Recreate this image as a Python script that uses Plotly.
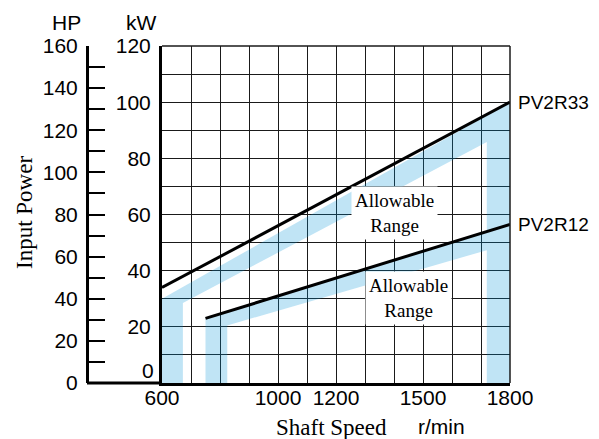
import plotly.graph_objects as go

# ---- data ----
speed_ticks = [600, 700, 800, 900, 1000, 1100, 1200, 1300, 1400, 1500, 1600, 1700, 1800]
speed_labels = ["600", "", "", "", "1000", "", "1200", "", "", "1500", "", "", "1800"]
kw_ticks = [0, 10, 20, 30, 40, 50, 60, 70, 80, 90, 100, 110, 120]
kw_labels = ["", "", "20", "", "40", "", "60", "", "80", "", "100", "", "120"]
hp_ticks = [0, 10, 20, 30, 40, 50, 60, 70, 80, 90, 100, 110, 120, 130, 140, 150, 160]
hp_labels = ["0", "", "20", "", "40", "", "60", "", "80", "", "100", "", "120", "", "140", "", "160"]

pv2r33_speed = [600, 1800]
pv2r33_kw = [34, 100]
pv2r12_speed = [750, 1800]
pv2r12_kw = [23, 56.5]

band33_speed = [600, 600, 1800, 1800, 1720, 1720, 672, 672]
band33_kw = [0, 30, 100, 0, 0, 85.8, 28.5, 0]
band12_speed = [750, 750, 1720, 1720, 825, 825]
band12_kw = [0, 23, 54, 47.3, 20.5, 0]

SANS = "Liberation Sans, Arial, sans-serif"
SERIF = "Liberation Serif, Times New Roman, serif"
BAND = "rgba(3,147,215,0.25)"
GRID = "#1a1a1a"

fig = go.Figure()
for xs, ys in [(band33_speed, band33_kw), (band12_speed, band12_kw)]:
    fig.add_trace(go.Scatter(x=xs, y=ys, fill="toself", fillcolor=BAND, mode="none",
                             hoverinfo="skip", showlegend=False))
for xs, ys in [(pv2r33_speed, pv2r33_kw), (pv2r12_speed, pv2r12_kw)]:
    fig.add_trace(go.Scatter(x=xs, y=ys, mode="lines", line=dict(color="black", width=3),
                             hoverinfo="skip", showlegend=False))
# dummy trace to activate HP axis
fig.add_trace(go.Scatter(x=[600], y=[0], yaxis="y2", mode="none", hoverinfo="skip", showlegend=False))

x0 = (162 - 87) / (510 - 87)

fig.update_layout(
    width=599, height=439,
    margin=dict(l=87, r=89, t=46, b=56, pad=0),
    paper_bgcolor="white", plot_bgcolor="white",
    xaxis=dict(domain=[x0, 1], range=[600, 1800], tickmode="array", tickvals=speed_ticks,
               ticktext=speed_labels, showgrid=True, gridcolor=GRID, gridwidth=1,
               showline=True, linecolor="black", linewidth=3, ticks="", zeroline=False,
               tickfont=dict(family=SANS, size=21, color="black"), anchor="y",
               ticklabelstandoff=-6),
    yaxis=dict(range=[0, 120], tickmode="array", tickvals=kw_ticks, ticktext=kw_labels,
               showgrid=True, gridcolor=GRID, gridwidth=1, showline=True, linecolor="black",
               linewidth=3, ticks="", zeroline=False, anchor="x",
               tickfont=dict(family=SANS, size=21, color="black"), ticklabelstandoff=4),
    yaxis2=dict(range=[0, 160], overlaying="y", anchor="free", position=0, side="left",
                tickmode="array", tickvals=hp_ticks, ticktext=hp_labels, ticks="inside",
                ticklen=16, tickwidth=2, tickcolor="black", showline=True, linecolor="black",
                linewidth=3, showgrid=False, zeroline=False,
                tickfont=dict(family=SANS, size=21, color="black"), ticklabelstandoff=4),
    shapes=[
        dict(type="line", xref="paper", yref="paper", x0=0, x1=x0, y0=0, y1=0,
             line=dict(color="black", width=3)),
        # top and right frame (thin, like the grid)
        dict(type="line", xref="paper", yref="paper", x0=x0, x1=1, y0=1, y1=1,
             line=dict(color=GRID, width=1.5)),
        dict(type="line", xref="paper", yref="paper", x0=1, x1=1, y0=0, y1=1,
             line=dict(color=GRID, width=1.5)),
    ],
)

ann = [
    dict(text="HP", x=66, y=23),
    dict(text="kW", x=141, y=23),
]
for a in ann:
    fig.add_annotation(text=a["text"], xref="paper", yref="paper",
                       x=(a["x"] - 87) / 423, y=1 - (a["y"] - 46) / 337,
                       showarrow=False, xanchor="center", yanchor="middle",
                       font=dict(family=SANS, size=21, color="black"))

fig.add_annotation(text="Input Power", xref="paper", yref="paper",
                   x=(24 - 87) / 423, y=1 - (213 - 46) / 337, textangle=-90,
                   showarrow=False, xanchor="center", yanchor="middle",
                   font=dict(family=SERIF, size=23, color="black"))
fig.add_annotation(text="Shaft Speed", xref="paper", yref="paper",
                   x=(331 - 87) / 423, y=1 - (427 - 46) / 337,
                   showarrow=False, xanchor="center", yanchor="middle",
                   font=dict(family=SERIF, size=23, color="black"))
fig.add_annotation(text="r/min", xref="paper", yref="paper",
                   x=(441 - 87) / 423, y=1 - (426 - 46) / 337,
                   showarrow=False, xanchor="center", yanchor="middle",
                   font=dict(family=SANS, size=21, color="black"))
# raised kW zero label
fig.add_annotation(text="0", x=600, y=4.6, xref="x", yref="y", xanchor="right",
                   yanchor="middle", xshift=-6, showarrow=False,
                   font=dict(family=SANS, size=21, color="black"))
# series labels
fig.add_annotation(text="PV2R33", x=1800, y=pv2r33_kw[-1], xref="x", yref="y",
                   xanchor="left", yanchor="middle", xshift=6, showarrow=False,
                   font=dict(family=SANS, size=19, color="black"))
fig.add_annotation(text="PV2R12", x=1800, y=pv2r12_kw[-1], xref="x", yref="y",
                   xanchor="left", yanchor="middle", xshift=6, showarrow=False,
                   font=dict(family=SANS, size=19, color="black"))
# allowable range labels
fig.add_annotation(text="Allowable<br>Range", x=1400, y=60.5, xref="x", yref="y",
                   showarrow=False, bgcolor="white", borderpad=3,
                   font=dict(family=SERIF, size=19, color="black"))
fig.add_annotation(text="Allowable<br>Range", x=1450, y=30.2, xref="x", yref="y",
                   showarrow=False, bgcolor="white", borderpad=3,
                   font=dict(family=SERIF, size=19, color="black"))

fig.write_html("out.html", config={"displayModeBar": False},
               post_script="document.body.style.margin='0';")
